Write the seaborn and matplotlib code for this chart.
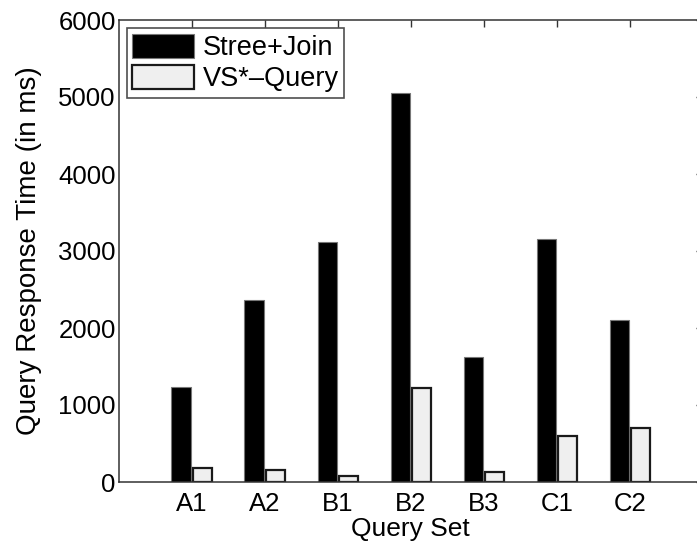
import matplotlib
matplotlib.use("Agg")
import matplotlib.pyplot as plt
import seaborn as sns
import pandas as pd

query_sets = ["A1", "A2", "B1", "B2", "B3", "C1", "C2"]
stree_join = [1230, 2370, 3120, 5050, 1620, 3150, 2110]
vs_query = [178, 160, 80, 1220, 135, 597, 705]
methods = ["Stree+Join", "VS*\u2013Query"]
y_ticks = [0, 1000, 2000, 3000, 4000, 5000, 6000]

sns.set_style("white")
plt.rcParams["font.family"] = ["Liberation Sans", "DejaVu Sans"]
plt.rcParams["text.color"] = "black"
plt.rcParams["axes.labelcolor"] = "black"

df = pd.DataFrame({
    "Query Set": query_sets * 2,
    "time": stree_join + vs_query,
    "method": [methods[0]] * len(query_sets) + [methods[1]] * len(query_sets),
})

fig = plt.figure(figsize=(6.97, 5.47), dpi=100)
ax = fig.add_axes([118.5 / 697, 65 / 547, (703 - 118.5) / 697, (482 - 20) / 547])

sns.barplot(data=df, x="Query Set", y="time", hue="method", order=query_sets,
            hue_order=methods, palette=["black", "#efefef"], width=0.58, gap=0.1,
            errorbar=None, saturation=1, ax=ax, legend=False)

# style the two series
for p in ax.containers[0].patches:
    p.set_edgecolor("#777777")
    p.set_linewidth(0.8)
for p in ax.containers[1].patches:
    p.set_edgecolor("#1a1a1a")
    p.set_linewidth(1.6)

ax.set_xlim(-1, 7)
ax.set_ylim(0, 6000)
ax.set_yticks(y_ticks)
ax.set_yticklabels([str(v) for v in y_ticks])

fs = 18.5
ax.set_xlabel("Query Set", fontsize=19, labelpad=1, color="black")
ax.set_ylabel("Query Response Time (in ms)", fontsize=20, labelpad=12, color="black")
ax.tick_params(axis="both", which="both", direction="in", length=5, width=1,
               labelsize=fs, top=True, right=True, colors="#333333",
               labelcolor="black")
ax.tick_params(axis="x", pad=7)
ax.tick_params(axis="y", pad=2)

for s in ax.spines.values():
    s.set_visible(True)
    s.set_color("#333333")
    s.set_linewidth(1.1)

leg = ax.legend(ax.containers, methods, loc="upper left", fontsize=19.5,
                frameon=True, fancybox=False, edgecolor="#222222",
                handlelength=2.3, handleheight=1.0, handletextpad=0.3,
                borderpad=0.2, labelspacing=0.15, borderaxespad=0.3)
leg.get_frame().set_linewidth(1.2)
for t in leg.get_texts():
    t.set_color("black")

fig.savefig("out.png", dpi=100)
